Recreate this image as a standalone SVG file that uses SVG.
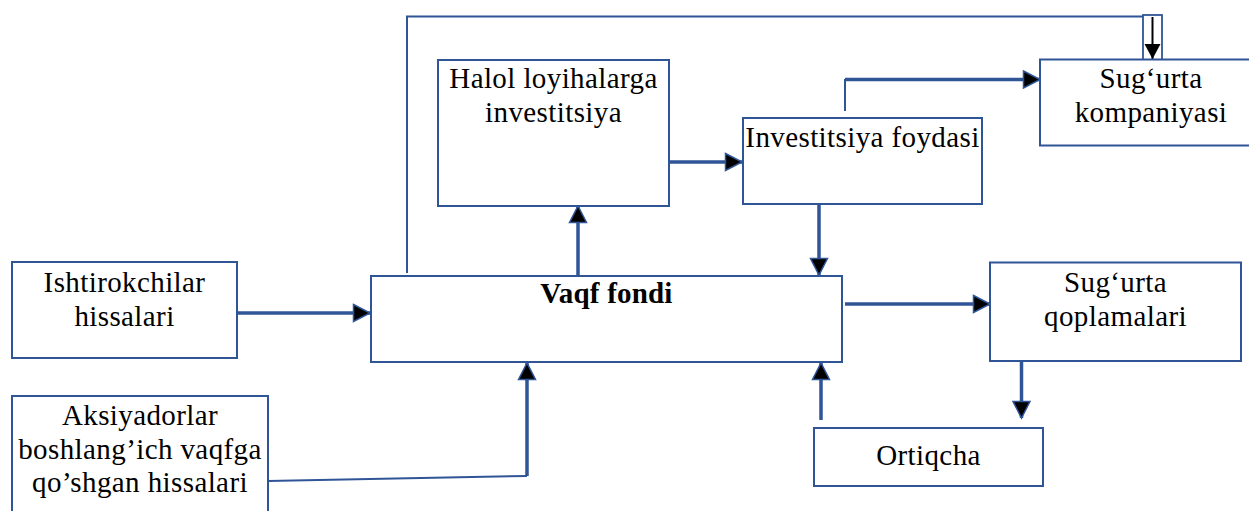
<svg xmlns="http://www.w3.org/2000/svg" width="1249" height="511" viewBox="0 0 1249 511">
<style>
.box{fill:#fff;stroke:#2f5597;stroke-width:2}
.t{font-family:"Liberation Serif","DejaVu Serif",serif;font-size:29px;fill:#000;text-anchor:middle;letter-spacing:0.4px}
.b{font-weight:bold;letter-spacing:0.2px}
.c{fill:none;stroke:#2f5597;stroke-width:3.5}
.thin{fill:none;stroke:#2f5597;stroke-width:2}
</style>
<defs>
<marker id="ah" markerUnits="userSpaceOnUse" markerWidth="20" markerHeight="20" viewBox="0 0 20 20" refX="18" refY="10" orient="auto">
<path d="M1.5,1.5 L18,10 L1.5,18.5 Z" fill="#000" stroke="#2f5597" stroke-width="1.5"/>
</marker>
<marker id="bh" markerUnits="userSpaceOnUse" markerWidth="20" markerHeight="20" viewBox="0 0 20 20" refX="17" refY="10" orient="auto">
<path d="M2,2 L17,10 L2,18 Z" fill="#000"/>
</marker>
</defs>
<g id="connectors">
<path class="thin" d="M407,273 V16.5 H1143"/>
<rect x="1143" y="15" width="19" height="46" fill="none" stroke="#2f5597" stroke-width="1.8"/>
<path d="M1152.5,17 V59" stroke="#000" stroke-width="2" fill="none" marker-end="url(#bh)"/>
<path class="c" d="M237,313 H370" marker-end="url(#ah)"/>
<path class="thin" d="M268,481 L527,476"/>
<path class="c" d="M527,476 V363" marker-end="url(#ah)"/>
<path class="c" d="M578,275 V206" marker-end="url(#ah)"/>
<path class="c" d="M670,162 H742" marker-end="url(#ah)"/>
<path class="c" d="M819,205 V275" marker-end="url(#ah)"/>
<path class="thin" d="M845,111 V79"/>
<path class="c" d="M845,79.5 H1040" marker-end="url(#ah)"/>
<path class="c" d="M845,304 H990" marker-end="url(#ah)"/>
<path class="c" d="M1021.5,362 V418" marker-end="url(#ah)"/>
<path class="c" d="M821,420 V363" marker-end="url(#ah)"/>
</g>
<g id="halol">
<rect class="box" x="438" y="60" width="231" height="146"/>
<text class="t" x="553.5" y="88">Halol loyihalarga</text>
<text class="t" x="553.5" y="122">investitsiya</text>
</g>
<g id="foyda">
<rect class="box" x="743" y="118" width="239" height="86"/>
<text class="t" x="862.5" y="147">Investitsiya foydasi</text>
</g>
<g id="kompaniya">
<rect class="box" x="1040" y="59.5" width="215" height="86"/>
<text class="t" x="1151" y="88">Sug‘urta</text>
<text class="t" x="1151" y="122">kompaniyasi</text>
</g>
<g id="vaqf">
<rect class="box" x="371" y="276" width="471" height="86"/>
<text class="t b" x="606.5" y="303">Vaqf fondi</text>
</g>
<g id="ishtirokchilar">
<rect class="box" x="12" y="262" width="225" height="96"/>
<text class="t" x="124.5" y="292">Ishtirokchilar</text>
<text class="t" x="124.5" y="326">hissalari</text>
</g>
<g id="aksiyadorlar">
<rect class="box" x="12" y="396" width="256" height="130"/>
<text class="t" x="140" y="425">Aksiyadorlar</text>
<text class="t" x="140" y="458.5">boshlang’ich vaqfga</text>
<text class="t" x="140" y="492">qo’shgan hissalari</text>
</g>
<g id="qoplamalari">
<rect class="box" x="990" y="262.5" width="251" height="98.5"/>
<text class="t" x="1115.5" y="292">Sug‘urta</text>
<text class="t" x="1115.5" y="325.5">qoplamalari</text>
</g>
<g id="ortiqcha">
<rect class="box" x="814" y="428" width="229" height="58"/>
<text class="t" x="928.5" y="465">Ortiqcha</text>
</g>
</svg>
